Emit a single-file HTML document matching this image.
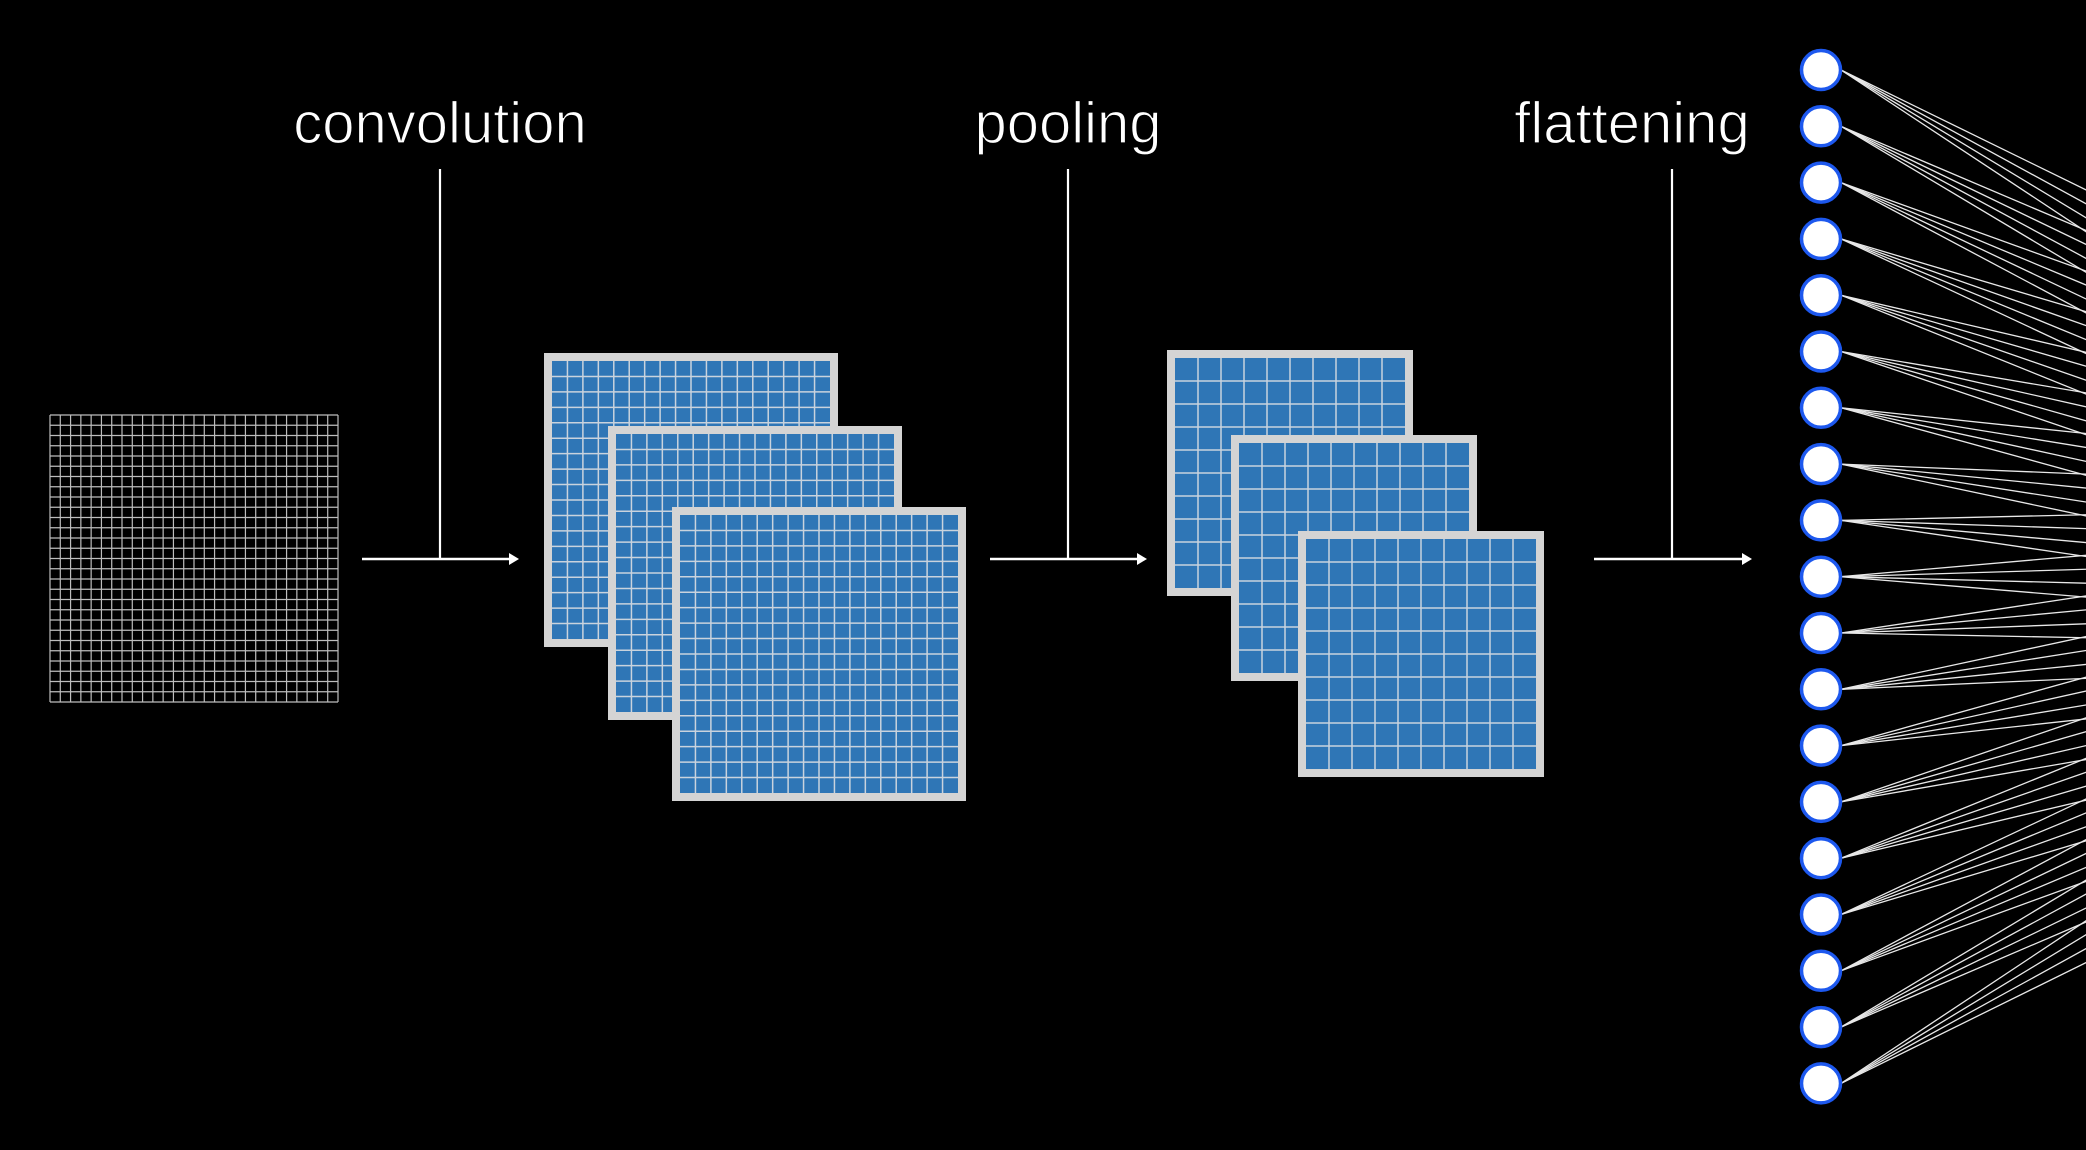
<!DOCTYPE html>
<html><head><meta charset="utf-8"><style>
html,body{margin:0;padding:0;background:#000;width:2086px;height:1150px;overflow:hidden}
svg{display:block}
text{font-family:"Liberation Sans",sans-serif;fill:#fff;font-size:58px;stroke:#000;stroke-width:1.2px}
</style></head><body>
<svg id="c" width="2086" height="1150" viewBox="0 0 2086 1150"></svg>
<script>
const labels = ["convolution", "pooling", "flattening"];
const stageX = [440, 1068, 1672];
const arrowStart = [362, 990, 1594];
const arrowEnd = [519, 1147, 1752];
const convMaps = [[544,353],[608,426],[672,507]];
const poolMaps = [[1167,350],[1231,435],[1298,531]];
const nodeCount = 19;
const hiddenTargets = [500, 550, 600, 650];

const NS = "http://www.w3.org/2000/svg";
const svg = document.getElementById('c');
function mk(tag, attrs, parent){
  const e = document.createElementNS(NS, tag);
  for (const k in attrs) e.setAttribute(k, attrs[k]);
  (parent||svg).appendChild(e);
  return e;
}

const gIn = mk('g', {});


const ix0=50, iy0=415, iw=288, ih=287, n=28;
for (let i=0;i<=n;i++){
  mk('line',{x1:ix0+i*iw/n,y1:iy0,x2:ix0+i*iw/n,y2:iy0+ih,stroke:'#bdbdbd','stroke-width':1.2},gIn);
  mk('line',{x1:ix0,y1:iy0+i*ih/n,x2:ix0+iw,y2:iy0+i*ih/n,stroke:'#bdbdbd','stroke-width':1.2},gIn);
}

function featureMap(x,y,size,cells,name){
  const g = mk('g',{});
  
  
  mk('rect',{x:x,y:y,width:size,height:size,fill:'#d4d4d4'},g);
  const b=8, inner=size-2*b;
  mk('rect',{x:x+b,y:y+b,width:inner,height:inner,fill:'#2f76b6'},g);
  for (let i=1;i<cells;i++){
    const p=i*inner/cells;
    mk('line',{x1:x+b+p,y1:y+b,x2:x+b+p,y2:y+b+inner,stroke:'#c9d3dd','stroke-width':1.5},g);
    mk('line',{x1:x+b,y1:y+b+p,x2:x+b+inner,y2:y+b+p,stroke:'#c9d3dd','stroke-width':1.5},g);
  }
}
convMaps.forEach((m,i)=>featureMap(m[0],m[1],294,18,'conv-feature-map-'+(i+1)));
poolMaps.forEach((m,i)=>featureMap(m[0],m[1],246,10,'pooled-feature-map-'+(i+1)));

labels.forEach((l,i)=>{
  const t = mk('text',{x:stageX[i]-(i===2?40:0),y:143,'text-anchor':'middle'});
  t.textContent = l;
  
  
  const v = mk('line',{x1:stageX[i],y1:169,x2:stageX[i],y2:559,stroke:'#fff','stroke-width':2.2});
  
  
  const a = mk('line',{x1:arrowStart[i],y1:559,x2:arrowEnd[i]-8,y2:559,stroke:'#fff','stroke-width':2.5});
  
  
  const h = mk('polygon',{points:`${arrowEnd[i]-10},553 ${arrowEnd[i]},559 ${arrowEnd[i]-10},565`,fill:'#fff'});
  
  
});

const nx=1821, ny0=70, ndy=56.3, tx=2720;
const gl = mk('g',{});


for (let i=0;i<nodeCount;i++){
  const y=ny0+i*ndy;
  hiddenTargets.forEach(t=>{
    mk('line',{x1:nx+20,y1:y,x2:tx,y2:t,stroke:'#e8e8e8','stroke-width':1.3},gl);
  });
}
for (let i=0;i<nodeCount;i++){
  const c = mk('circle',{cx:nx,cy:ny0+i*ndy,r:19.5,fill:'#fff',stroke:'#1d58ee','stroke-width':3.5});
  
  
}
</script>
</body></html>
